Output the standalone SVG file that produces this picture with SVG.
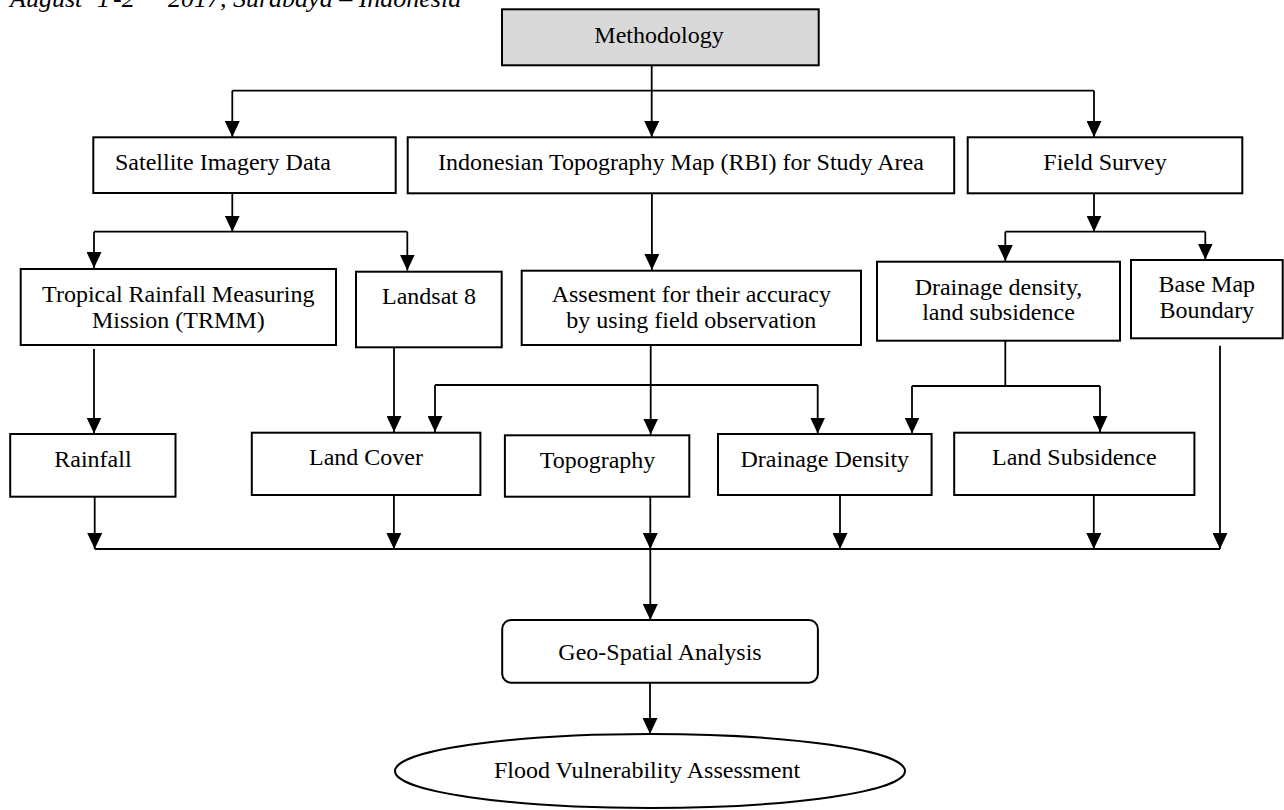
<svg xmlns="http://www.w3.org/2000/svg" width="1284" height="810" viewBox="0 0 1284 810">
<style>
  .box { fill: #ffffff; stroke: #000; stroke-width: 2; }
  .gray { fill: #d9d9d9; stroke: #000; stroke-width: 2; }
  .t { font-family: "Liberation Serif", "Times New Roman", serif; font-size: 24px; fill: #000; text-anchor: middle; }
  .hdr { font-family: "Liberation Serif", "Times New Roman", serif; font-size: 26px; font-style: italic; fill: #000; }
  .ln { fill: none; stroke: #000; stroke-width: 1.8; }
  .ar { fill: none; stroke: #000; stroke-width: 1.8; marker-end: url(#ah); }
</style>
<defs>
  <marker id="ah" viewBox="0 0 16 15" refX="16" refY="7.5" markerWidth="16" markerHeight="15" markerUnits="userSpaceOnUse" orient="auto">
    <path d="M0,0 L16,7.5 L0,15 z" fill="#000"/>
  </marker>
</defs>
<rect width="1284" height="810" fill="#ffffff"/>

<g id="header">
  <text class="hdr" x="10" y="6.5">August<tspan x="97">1</tspan><tspan x="113">-2</tspan><tspan x="168">2017, Surabaya – Indonesia</tspan></text>
</g>

<g id="connectors">
  <line class="ar" x1="651.7" y1="65" x2="651.7" y2="137"/>
  <line class="ln" x1="232.3" y1="90.7" x2="1094" y2="90.7"/>
  <line class="ar" x1="232.3" y1="90.7" x2="232.3" y2="137"/>
  <line class="ar" x1="1094" y1="90.7" x2="1094" y2="137"/>
  <line class="ar" x1="232.3" y1="193" x2="232.3" y2="231.7"/>
  <line class="ln" x1="94" y1="231.7" x2="407.3" y2="231.7"/>
  <line class="ar" x1="94" y1="231.7" x2="94" y2="268"/>
  <line class="ar" x1="407.3" y1="231.7" x2="407.3" y2="270.5"/>
  <line class="ar" x1="651.9" y1="193.3" x2="651.9" y2="270"/>
  <line class="ar" x1="1094" y1="193.3" x2="1094" y2="231.7"/>
  <line class="ln" x1="1005.3" y1="231.7" x2="1205.3" y2="231.7"/>
  <line class="ar" x1="1005.3" y1="231.7" x2="1005.3" y2="261"/>
  <line class="ar" x1="1205.3" y1="231.7" x2="1205.3" y2="259.5"/>
  <line class="ar" x1="94" y1="349" x2="94" y2="433.5"/>
  <line class="ar" x1="394" y1="347.3" x2="394" y2="432"/>
  <line class="ar" x1="650.7" y1="345" x2="650.7" y2="434.5"/>
  <line class="ln" x1="435" y1="385" x2="817.7" y2="385"/>
  <line class="ar" x1="435" y1="385" x2="435" y2="432"/>
  <line class="ar" x1="817.7" y1="385" x2="817.7" y2="433.5"/>
  <line class="ln" x1="1005.3" y1="340.7" x2="1005.3" y2="386"/>
  <line class="ln" x1="912" y1="386" x2="1100" y2="386"/>
  <line class="ar" x1="912" y1="386" x2="912" y2="433.5"/>
  <line class="ar" x1="1100" y1="386" x2="1100" y2="432"/>
  <line class="ar" x1="1220" y1="345.7" x2="1220" y2="549"/>
  <line class="ar" x1="94.7" y1="496.7" x2="94.7" y2="549"/>
  <line class="ar" x1="393.9" y1="495" x2="393.9" y2="549"/>
  <line class="ar" x1="650.3" y1="496.7" x2="650.3" y2="549"/>
  <line class="ar" x1="840" y1="495" x2="840" y2="549"/>
  <line class="ar" x1="1093.8" y1="495" x2="1093.8" y2="549"/>
  <line class="ln" x1="94.7" y1="549" x2="1220" y2="549"/>
  <line class="ar" x1="650.3" y1="549" x2="650.3" y2="620"/>
  <line class="ar" x1="650" y1="683" x2="650" y2="734"/>
</g>

<g id="methodology">
  <rect class="gray" x="502" y="9.3" width="316.7" height="56"/>
  <text class="t" x="659" y="43.3">Methodology</text>
</g>

<g id="satellite">
  <rect class="box" x="93.3" y="137.3" width="302.4" height="55.7"/>
  <text class="t" x="115" y="170" style="text-anchor:start">Satellite Imagery Data</text>
</g>

<g id="rbi">
  <rect class="box" x="407.7" y="137.3" width="546.5" height="56"/>
  <text class="t" x="681" y="170">Indonesian Topography Map (RBI) for Study Area</text>
</g>

<g id="fieldsurvey">
  <rect class="box" x="967.7" y="137.3" width="274.6" height="56"/>
  <text class="t" x="1105" y="170">Field Survey</text>
</g>

<g id="trmm">
  <rect class="box" x="20.7" y="269" width="315.3" height="76"/>
  <text class="t" x="178.3" y="301.7">Tropical Rainfall Measuring</text>
  <text class="t" x="178.3" y="328.3">Mission (TRMM)</text>
</g>

<g id="landsat">
  <rect class="box" x="356" y="271.7" width="145.7" height="75.6"/>
  <text class="t" x="429" y="304">Landsat 8</text>
</g>

<g id="assesment">
  <rect class="box" x="521.7" y="270.7" width="339.3" height="74.3"/>
  <text class="t" x="691.3" y="302">Assesment for their accuracy</text>
  <text class="t" x="691.3" y="328.3">by using field observation</text>
</g>

<g id="drainage-subsidence">
  <rect class="box" x="877" y="261.7" width="243" height="79"/>
  <text class="t" x="998.5" y="295">Drainage density,</text>
  <text class="t" x="998.5" y="320">land subsidence</text>
</g>

<g id="basemap">
  <rect class="box" x="1131" y="260" width="151.7" height="78.3"/>
  <text class="t" x="1206.8" y="291.7">Base Map</text>
  <text class="t" x="1206.8" y="318.3">Boundary</text>
</g>

<g id="rainfall">
  <rect class="box" x="10.2" y="434" width="165.3" height="62.7"/>
  <text class="t" x="92.9" y="466.7">Rainfall</text>
</g>

<g id="landcover">
  <rect class="box" x="251.8" y="432.7" width="228.6" height="62.3"/>
  <text class="t" x="366" y="465">Land Cover</text>
</g>

<g id="topography">
  <rect class="box" x="504.9" y="435.3" width="184.4" height="61.4"/>
  <text class="t" x="597.5" y="468">Topography</text>
</g>

<g id="drainagedensity">
  <rect class="box" x="718" y="434" width="213.6" height="61"/>
  <text class="t" x="824.8" y="466.7">Drainage Density</text>
</g>

<g id="landsubsidence">
  <rect class="box" x="954.2" y="432.7" width="240.2" height="62.3"/>
  <text class="t" x="1074.3" y="465">Land Subsidence</text>
</g>

<g id="geospatial">
  <rect class="box" x="502.2" y="620" width="315.7" height="62.7" rx="9" ry="9"/>
  <text class="t" x="660" y="660">Geo-Spatial Analysis</text>
</g>

<g id="flood">
  <ellipse class="box" cx="650" cy="771" rx="255" ry="37"/>
  <text class="t" x="647" y="778.3">Flood Vulnerability Assessment</text>
</g>
</svg>
